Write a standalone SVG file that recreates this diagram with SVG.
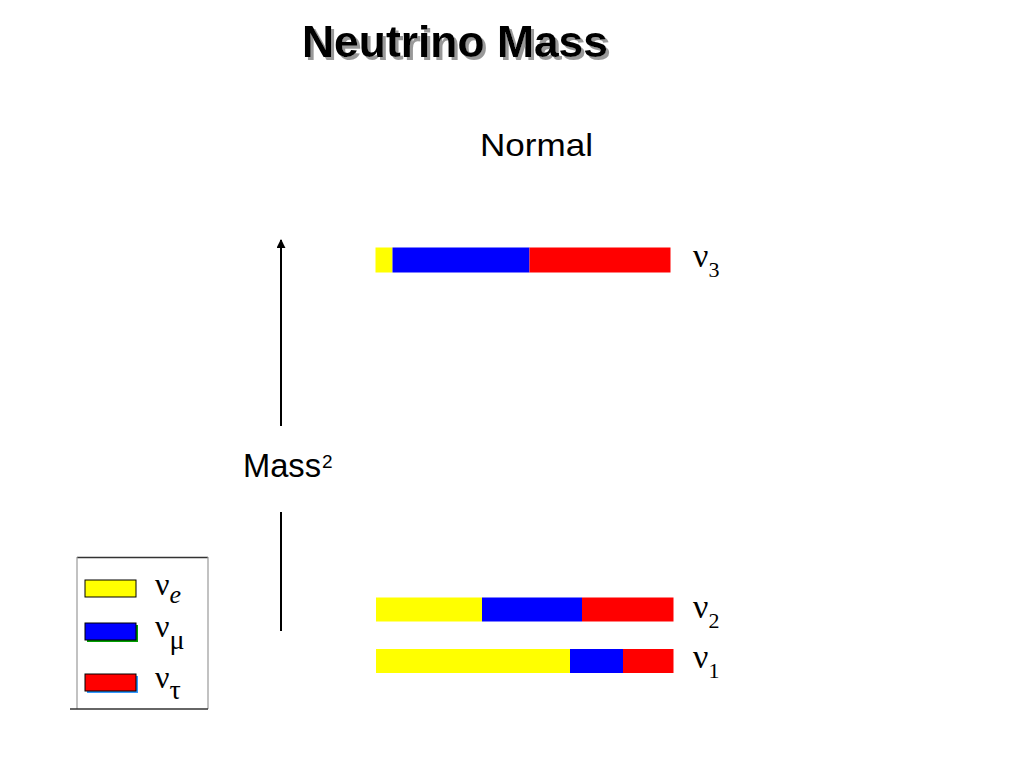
<svg xmlns="http://www.w3.org/2000/svg" width="1024" height="768" viewBox="0 0 1024 768">
<style>
.sans{font-family:"Liberation Sans","Open Sans",sans-serif;fill:#000}
.nu{font-family:"Liberation Serif","DejaVu Serif",serif;fill:#000}
.ye{fill:#ffff00}.bl{fill:#0000ff}.re{fill:#ff0000}
.axis{stroke:#000;stroke-width:2;fill:none}
</style>
<defs>
<marker id="ah" viewBox="0 0 10 10" refX="9" refY="5" markerWidth="9" markerHeight="9" markerUnits="userSpaceOnUse" orient="auto">
<path d="M0,0 L10,5 L0,10 Z" fill="#000"/>
</marker>
<filter id="shadow" x="-5%" y="-20%" width="110%" height="150%">
<feDropShadow dx="3" dy="3" stdDeviation="0.6" flood-color="#999" flood-opacity="1"/>
</filter>
</defs>
<rect width="1024" height="768" fill="#fff"/>
<g id="title">
<text class="sans" x="302" y="57" font-size="44" font-weight="bold" textLength="306" lengthAdjust="spacingAndGlyphs" filter="url(#shadow)">Neutrino Mass</text>
</g>
<g id="normal-label">
<text class="sans" x="480" y="156" font-size="32" textLength="113" lengthAdjust="spacingAndGlyphs">Normal</text>
</g>
<g id="connectors">
<line class="axis" x1="281" y1="426" x2="281" y2="240" marker-end="url(#ah)"/>
<line class="axis" x1="281" y1="512" x2="281" y2="631"/>
</g>
<g id="mass-label">
<text class="sans" x="243" y="477" font-size="33" textLength="78" lengthAdjust="spacingAndGlyphs">Mass</text>
<text class="sans" x="322" y="468" font-size="19">2</text>
</g>
<g id="nu3">
<rect class="ye" x="375.5" y="247.5" width="17" height="25"/>
<rect class="bl" x="392.5" y="247.5" width="137" height="25"/>
<rect class="re" x="529.5" y="247.5" width="141" height="25"/>
<text class="nu" x="693" y="267" font-size="34">ν<tspan font-size="22" dy="10">3</tspan></text>
</g>
<g id="nu2">
<rect class="ye" x="376" y="597.5" width="106" height="24"/>
<rect class="bl" x="482" y="597.5" width="100" height="24"/>
<rect class="re" x="582" y="597.5" width="91.5" height="24"/>
<text class="nu" x="693" y="618" font-size="34">ν<tspan font-size="22" dy="10">2</tspan></text>
</g>
<g id="nu1">
<rect class="ye" x="376" y="649" width="194" height="24"/>
<rect class="bl" x="570" y="649" width="53" height="24"/>
<rect class="re" x="623" y="649" width="50.5" height="24"/>
<text class="nu" x="693" y="668" font-size="34">ν<tspan font-size="22" dy="10">1</tspan></text>
</g>
<g id="legend">
<line x1="77" y1="557.5" x2="208" y2="557.5" stroke="#333" stroke-width="1.5"/>
<line x1="77" y1="557" x2="77" y2="709" stroke="#999" stroke-width="1.2"/>
<line x1="208" y1="557" x2="208" y2="709" stroke="#999" stroke-width="1.2"/>
<line x1="70" y1="709" x2="208" y2="709" stroke="#333" stroke-width="1.5"/>
<rect class="ye" x="85" y="580" width="51" height="17" stroke="#000" stroke-width="1"/>
<rect x="87" y="625" width="51" height="17" fill="#00a000"/>
<rect class="bl" x="85" y="623" width="51" height="17" stroke="#000" stroke-width="1"/>
<rect x="87" y="676" width="51" height="17" fill="#3399ff"/>
<rect class="re" x="85" y="674" width="51" height="17" stroke="#000" stroke-width="1"/>
<text class="nu" x="155" y="595" font-size="32">ν<tspan font-size="26" font-style="italic" dy="8">e</tspan></text>
<text class="nu" x="155" y="637" font-size="32">ν<tspan font-size="28" dy="12">μ</tspan></text>
<text class="nu" x="155" y="688" font-size="32">ν<tspan font-size="28" dy="11">τ</tspan></text>
</g>
</svg>
